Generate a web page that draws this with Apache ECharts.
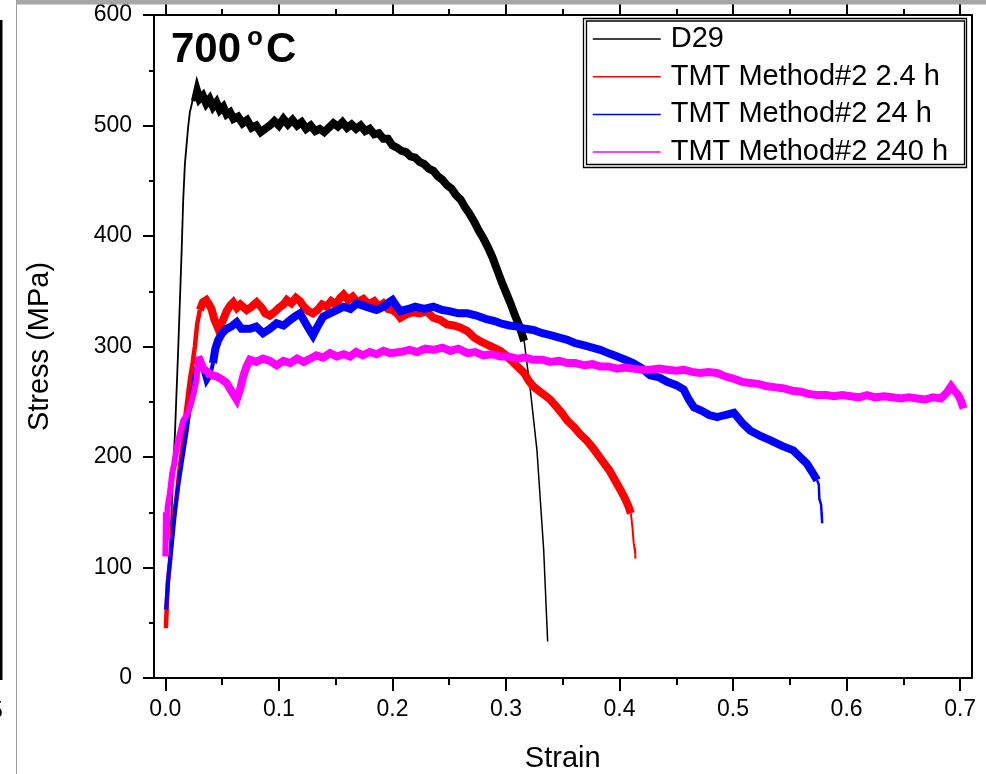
<!DOCTYPE html>
<html>
<head>
<meta charset="utf-8">
<script src="https://cdn.jsdelivr.net/npm/echarts@6.0.0/dist/echarts.min.js"></script>
<style>
html,body{margin:0;padding:0;background:#fff;}
#chart{width:986px;height:774px;}
</style>
</head>
<body>
<div id="chart"></div>
<script>
// ---- tick labels / categories ----
const seriesNames = ['D29', 'TMT Method#2 2.4 h', 'TMT Method#2 24 h', 'TMT Method#2 240 h'];
const xMajorTicks = [0, 0.1, 0.2, 0.3, 0.4, 0.5, 0.6, 0.7];
const xMinorTicks = [0.05, 0.15, 0.25, 0.35, 0.45, 0.55, 0.65];

// ---- D29 (black) [strain, stress MPa] ----
const d29Rise = [[0.0015,55],[0.004,110],[0.0069,190],[0.0084,220],[0.0113,297],[0.0143,385],[0.0157,432],[0.0172,465],[0.0201,499],[0.0216,512],[0.0243,524],[0.026,522]];
const d29Flow = [[0.026,522],[0.028,531],[0.030,524],[0.033,527],[0.036,520],[0.039,524],[0.042,517],[0.045,521],[0.048,514],[0.051,517],[0.054,510],[0.057,512],[0.060,506],[0.064,508],[0.068,502],[0.072,505],[0.076,498],[0.080,500],[0.084,494],[0.088,497],[0.092,500],[0.096,504],[0.100,500],[0.104,506],[0.108,501],[0.112,505],[0.116,500],[0.120,503],[0.124,497],[0.128,500],[0.132,495],[0.136,497],[0.140,494],[0.144,498],[0.148,502],[0.152,499],[0.156,503],[0.160,498],[0.164,501],[0.168,497],[0.172,500],[0.176,495],[0.180,497],[0.184,492],[0.188,493],[0.192,488],[0.196,488],[0.200,482],[0.204,480],[0.208,477],[0.212,476],[0.216,472],[0.220,471],[0.224,467],[0.228,465],[0.232,461],[0.236,459],[0.240,454],[0.244,451],[0.248,446],[0.252,443],[0.256,437],[0.260,433],[0.264,426],[0.268,420],[0.272,413],[0.276,405],[0.280,398],[0.284,390],[0.288,381],[0.292,370],[0.296,359],[0.300,349],[0.304,339],[0.308,328],[0.312,318],[0.316,305]];
const d29Fracture = [[0.316,305],[0.3214,261],[0.3273,206],[0.3332,116],[0.3367,33]];

// ---- TMT Method#2 2.4 h (red) ----
const tmt2p4Rise = [[0.0005,45],[0.002,85],[0.004,104],[0.006,135],[0.008,150],[0.010,164],[0.012,185],[0.0157,215],[0.018,240],[0.0216,270],[0.024,285],[0.026,300],[0.028,320],[0.0304,333]];
const tmt2p4Flow = [[0.0304,333],[0.033,340],[0.036,342],[0.0385,338],[0.0407,334],[0.043,325],[0.0466,316],[0.050,322],[0.054,332],[0.057,337],[0.0598,340],[0.063,335],[0.066,338],[0.0716,333],[0.076,336],[0.0804,340],[0.085,335],[0.088,330],[0.092,328],[0.096,331],[0.100,335],[0.104,338],[0.107,342],[0.111,339],[0.115,344],[0.1186,341],[0.122,336],[0.126,332],[0.130,330],[0.134,333],[0.138,338],[0.142,336],[0.146,341],[0.150,338],[0.154,344],[0.157,347],[0.161,342],[0.165,345],[0.169,340],[0.1744,343],[0.179,338],[0.184,341],[0.188,336],[0.192,339],[0.196,334],[0.200,333],[0.204,330],[0.207,326],[0.212,329],[0.218,331],[0.224,330],[0.230,332],[0.236,326],[0.242,324],[0.248,320],[0.254,319],[0.260,317],[0.266,314],[0.272,308],[0.277,305],[0.283,302],[0.289,299],[0.295,296],[0.300,292],[0.305,287],[0.310,282],[0.316,276],[0.320,269],[0.324,264],[0.330,259],[0.334,256],[0.339,252],[0.344,246],[0.349,240],[0.354,233],[0.360,227],[0.365,221],[0.371,215],[0.376,209],[0.381,202],[0.386,195],[0.391,188],[0.396,179],[0.401,170],[0.405,162],[0.408,155],[0.410,149]];
const tmt2p4Fracture = [[0.410,149],[0.4115,135],[0.4125,122],[0.4140,112],[0.4135,118],[0.4140,108]];

// ---- TMT Method#2 24 h (blue) ----
const tmt24Rise = [[0.0005,62],[0.001,68],[0.003,95],[0.0055,119],[0.008,145],[0.010,164],[0.013,185],[0.0157,203],[0.019,225],[0.0216,245],[0.024,262],[0.026,276],[0.0285,286],[0.0304,288],[0.033,278],[0.036,267],[0.039,272],[0.042,285]];
const tmt24Flow = [[0.042,285],[0.044,298],[0.0466,306],[0.050,312],[0.054,316],[0.058,318],[0.0628,322],[0.067,316],[0.0745,316],[0.080,318],[0.086,312],[0.092,316],[0.098,321],[0.104,319],[0.110,324],[0.114,327],[0.1186,330],[0.123,322],[0.127,315],[0.130,310],[0.134,318],[0.139,327],[0.145,330],[0.151,333],[0.157,336],[0.163,334],[0.1686,339],[0.174,337],[0.180,335],[0.186,333],[0.192,336],[0.197,340],[0.200,342],[0.204,336],[0.207,332],[0.214,334],[0.220,336],[0.228,334],[0.236,336],[0.244,333],[0.250,332],[0.258,330],[0.266,330],[0.274,328],[0.282,325],[0.290,323],[0.295,321],[0.303,319],[0.310,318],[0.317,316],[0.324,315],[0.332,312],[0.340,310],[0.347,308],[0.354,306],[0.361,303],[0.369,301],[0.376,299],[0.383,297],[0.390,294],[0.398,291],[0.405,288],[0.412,285],[0.420,280],[0.427,274],[0.435,272],[0.442,268],[0.450,265],[0.4566,261],[0.461,252],[0.4655,245],[0.472,242],[0.479,238],[0.486,236],[0.493,238],[0.5007,240],[0.508,231],[0.515,224],[0.524,219],[0.533,215],[0.543,210],[0.553,206],[0.560,199],[0.565,194],[0.570,186],[0.574,179]];
const tmt24Fracture = [[0.574,179],[0.5755,175],[0.576,162],[0.5775,157],[0.5785,140],[0.578,150]];

// ---- TMT Method#2 240 h (magenta) ----
const tmt240Rise = [[0.000,110],[0.0005,150],[0.001,125],[0.002,155],[0.004,167],[0.006,185],[0.008,195],[0.010,209],[0.013,222],[0.0157,233],[0.019,238],[0.0216,245],[0.025,258],[0.0275,270],[0.029,291]];
const tmt240Flow = [[0.029,291],[0.031,286],[0.0333,280],[0.037,277],[0.041,274],[0.045,273],[0.050,270],[0.054,267],[0.058,260],[0.0628,252],[0.066,262],[0.0686,273],[0.0715,282],[0.0745,288],[0.080,286],[0.086,289],[0.092,287],[0.098,283],[0.104,287],[0.110,285],[0.116,289],[0.122,286],[0.1274,289],[0.133,292],[0.139,290],[0.145,294],[0.151,291],[0.157,293],[0.1627,291],[0.168,295],[0.174,292],[0.180,295],[0.186,293],[0.192,296],[0.198,294],[0.207,295],[0.215,297],[0.222,295],[0.229,298],[0.236,297],[0.244,299],[0.251,296],[0.258,298],[0.266,294],[0.273,295],[0.280,292],[0.288,293],[0.295,291],[0.302,291],[0.310,289],[0.317,290],[0.324,288],[0.332,288],[0.339,286],[0.347,287],[0.354,285],[0.361,285],[0.369,283],[0.376,284],[0.383,282],[0.390,282],[0.398,280],[0.405,281],[0.412,280],[0.420,279],[0.427,279],[0.435,280],[0.442,279],[0.450,278],[0.4566,279],[0.464,277],[0.471,276],[0.478,277],[0.486,276],[0.493,273],[0.500,271],[0.508,268],[0.515,267],[0.523,266],[0.530,264],[0.538,263],[0.545,262],[0.552,260],[0.560,259],[0.567,257],[0.574,256],[0.582,256],[0.589,255],[0.596,256],[0.6036,255],[0.611,254],[0.618,256],[0.625,254],[0.633,255],[0.640,254],[0.648,253],[0.655,254],[0.662,253],[0.669,252],[0.676,254],[0.683,253],[0.688,258],[0.692,264],[0.695,260],[0.699,255],[0.701,250],[0.703,244]];

const FONT = '"Liberation Sans", Arial, sans-serif';
const colors = ['#000000', '#ff0000', '#0000ff', '#ff00ff'];

function lineSeries(name, data, color, width) {
  return {
    type: 'line', name: name, data: data, symbol: 'none', showSymbol: false,
    xAxisIndex: 0, yAxisIndex: 0, animation: false, silent: true,
    lineStyle: { color: color, width: width, join: 'miter', cap: 'butt' },
    itemStyle: { color: color }
  };
}

const series = [
  lineSeries(seriesNames[0], d29Rise, colors[0], 1.8),
  lineSeries(seriesNames[0], d29Flow, colors[0], 8),
  lineSeries(seriesNames[0], d29Fracture, colors[0], 1.5),
  lineSeries(seriesNames[1], tmt2p4Rise, colors[1], 4.5),
  lineSeries(seriesNames[1], tmt2p4Flow, colors[1], 8),
  lineSeries(seriesNames[1], tmt2p4Fracture, colors[1], 2),
  lineSeries(seriesNames[2], tmt24Rise, colors[2], 4),
  lineSeries(seriesNames[2], tmt24Flow, colors[2], 8),
  lineSeries(seriesNames[2], tmt24Fracture, colors[2], 2.5),
  lineSeries(seriesNames[3], tmt240Rise, colors[3], 6),
  lineSeries(seriesNames[3], tmt240Flow, colors[3], 8)
];

const XMIN = -0.01, XMAX = 0.71;
const axisLineStyle = { color: '#000', width: 2 };

const chart = echarts.init(document.getElementById('chart'), null, { renderer: 'canvas' });
chart.setOption({
  animation: false,
  backgroundColor: '#ffffff',
  grid: { left: 154, right: 14.5, top: 15, bottom: 96, containLabel: false, outerBoundsMode: 'none' },
  xAxis: [
    { // bottom, major ticks + labels
      type: 'value', position: 'bottom', min: XMIN, max: XMAX,
      name: 'Strain', nameLocation: 'middle', nameGap: 66,
      nameTextStyle: { fontSize: 29, fontFamily: FONT, color: '#000' },
      axisLine: { show: true, onZero: false, lineStyle: axisLineStyle },
      axisTick: { show: true, inside: false, length: 13, lineStyle: { color: '#000', width: 2 }, customValues: xMajorTicks },
      axisLabel: { show: true, margin: 20, fontSize: 23, fontFamily: FONT, color: '#000', customValues: xMajorTicks,
        formatter: function (v) { return v.toFixed(1); } },
      splitLine: { show: false }
    },
    { // bottom, minor ticks
      type: 'value', position: 'bottom', min: XMIN, max: XMAX,
      axisLine: { show: false, onZero: false },
      axisTick: { show: true, length: 7, lineStyle: { color: '#000', width: 2 }, customValues: xMinorTicks },
      axisLabel: { show: false },
      splitLine: { show: false }
    },
    { // top, major ticks
      type: 'value', position: 'top', min: XMIN, max: XMAX,
      axisLine: { show: true, onZero: false, lineStyle: axisLineStyle },
      axisTick: { show: true, length: 13, lineStyle: { color: '#000', width: 2 }, customValues: xMajorTicks },
      axisLabel: { show: false },
      splitLine: { show: false }
    },
    { // top, minor ticks
      type: 'value', position: 'top', min: XMIN, max: XMAX,
      axisLine: { show: false, onZero: false },
      axisTick: { show: true, length: 6, lineStyle: { color: '#000', width: 2 }, customValues: xMinorTicks },
      axisLabel: { show: false },
      splitLine: { show: false }
    }
  ],
  yAxis: [
    {
      type: 'value', position: 'left', min: 0, max: 600, interval: 100,
      name: 'Stress (MPa)', nameLocation: 'middle', nameGap: 100, nameRotate: 90,
      nameTextStyle: { fontSize: 29, fontFamily: FONT, color: '#000' },
      axisLine: { show: true, onZero: false, lineStyle: axisLineStyle },
      axisTick: { show: true, length: 11, lineStyle: { color: '#000', width: 2 } },
      minorTick: { show: true, splitNumber: 2, length: 5, lineStyle: { color: '#000', width: 2 } },
      axisLabel: { show: true, margin: 22, fontSize: 23, fontFamily: FONT, color: '#000' },
      splitLine: { show: false }, minorSplitLine: { show: false }
    },
    {
      type: 'value', position: 'right', min: 0, max: 600,
      axisLine: { show: true, onZero: false, lineStyle: axisLineStyle },
      axisTick: { show: false }, axisLabel: { show: false }, splitLine: { show: false }
    }
  ],
  legend: {
    show: true, orient: 'vertical', left: 592, top: 24, padding: 0,
    itemWidth: 68, itemHeight: 30, itemGap: 7.7, selectedMode: false,
    data: seriesNames,
    lineStyle: { width: 1.5 },
    itemStyle: { opacity: 0 },
    textStyle: { fontSize: 29, fontFamily: FONT, color: '#000', lineHeight: 30, padding: [0, 0, 0, 5] }
  },
  series: series,
  graphic: [
    { type: 'rect', z: 50, silent: true, shape: { x: 583.5, y: 18.5, width: 383, height: 149 }, style: { fill: 'none', stroke: '#000', lineWidth: 1.3 } },
    { type: 'rect', z: 50, silent: true, shape: { x: 586.5, y: 21, width: 378, height: 143.5 }, style: { fill: 'none', stroke: '#000', lineWidth: 1.3 } },
    { type: 'text', z: 50, silent: true, style: { text: '700', x: 171, y: 50.5, align: 'left', verticalAlign: 'middle', font: 'bold 42px ' + FONT, fill: '#000' } },
    { type: 'text', z: 50, silent: true, style: { text: 'o', x: 247, y: 38, align: 'left', verticalAlign: 'middle', font: 'bold 26px ' + FONT, fill: '#000' } },
    { type: 'text', z: 50, silent: true, style: { text: 'C', x: 266, y: 50.5, align: 'left', verticalAlign: 'middle', font: 'bold 42px ' + FONT, fill: '#000' } },
    // screenshot frame remnants
    { type: 'rect', z: 100, silent: true, shape: { x: 16, y: 0, width: 970, height: 4.5 }, style: { fill: '#a6a6a6' } },
    { type: 'line', z: 100, silent: true, shape: { x1: 16.5, y1: 0, x2: 16.5, y2: 774 }, style: { stroke: '#a0a0a0', lineWidth: 1 } },
    { type: 'rect', z: 100, silent: true, shape: { x: 0, y: 20, width: 2.5, height: 660 }, style: { fill: '#000' } },
    { type: 'text', z: 100, silent: true, style: { text: '5', x: -10, y: 712, align: 'left', verticalAlign: 'middle', font: '23px ' + FONT, fill: '#000' } }
  ]
});
</script>
</body>
</html>
